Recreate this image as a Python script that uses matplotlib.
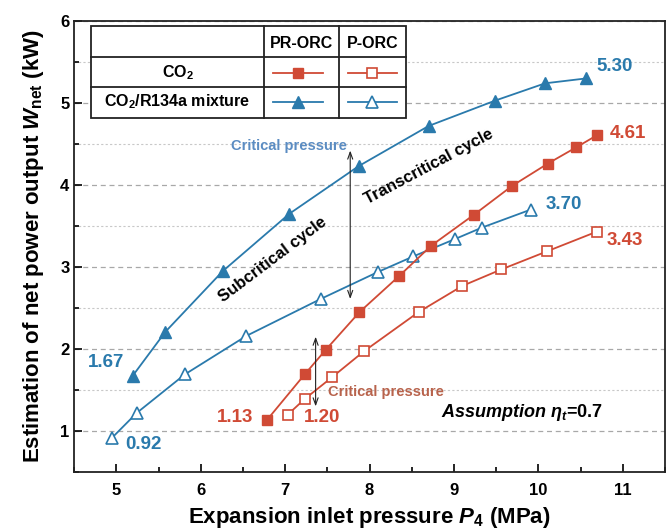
import matplotlib
matplotlib.use("Agg")
import matplotlib.pyplot as plt
from matplotlib.patches import Rectangle
from matplotlib.ticker import MultipleLocator

plt.rcParams['font.family'] = ['Liberation Sans', 'DejaVu Sans']
plt.rcParams['font.weight'] = 'bold'
plt.rcParams['axes.labelweight'] = 'bold'
plt.rcParams['mathtext.fontset'] = 'custom'
plt.rcParams['mathtext.rm'] = 'Liberation Sans:bold'
plt.rcParams['mathtext.bf'] = 'Liberation Sans:bold'
plt.rcParams['mathtext.it'] = 'Liberation Sans:bold:italic'

red = '#d04a35'
blue = '#2a7aac'

# CO2/R134a mixture, PR-ORC (filled triangles)
mix_pr_p = [5.19, 5.58, 6.26, 7.05, 7.87, 8.70, 9.49, 10.08, 10.57]
mix_pr_w = [1.67, 2.21, 2.95, 3.65, 4.23, 4.72, 5.03, 5.24, 5.30]
# CO2/R134a mixture, P-ORC (open triangles)
mix_p_p = [4.95, 5.24, 5.81, 6.54, 7.42, 8.10, 8.52, 9.01, 9.33, 9.91]
mix_p_w = [0.92, 1.22, 1.69, 2.16, 2.61, 2.94, 3.13, 3.34, 3.48, 3.70]
# CO2, PR-ORC (filled squares)
co2_pr_p = [6.78, 7.23, 7.48, 7.88, 8.35, 8.73, 9.24, 9.69, 10.11, 10.45, 10.70]
co2_pr_w = [1.13, 1.69, 1.99, 2.45, 2.89, 3.26, 3.64, 3.99, 4.26, 4.46, 4.61]
# CO2, P-ORC (open squares)
co2_p_p = [7.03, 7.23, 7.56, 7.93, 8.58, 9.10, 9.56, 10.10, 10.69]
co2_p_w = [1.20, 1.39, 1.66, 1.97, 2.45, 2.77, 2.97, 3.19, 3.43]

fig = plt.figure(figsize=(6.71, 5.31), dpi=100)
ax = fig.add_axes([0.1107, 0.1111, 0.991 - 0.1107, 0.9605 - 0.1111])

ms_sq = 7
ms_tri = 8.5
ax.plot(mix_pr_p, mix_pr_w, color=blue, lw=1.3, marker='^', ms=ms_tri, zorder=3)
ax.plot(mix_p_p, mix_p_w, color=blue, lw=1.3, marker='^', ms=ms_tri,
        mfc='white', mew=1.2, zorder=3)
ax.plot(co2_pr_p, co2_pr_w, color=red, lw=1.3, marker='s', ms=ms_sq, zorder=3)
ax.plot(co2_p_p, co2_p_w, color=red, lw=1.3, marker='s', ms=ms_sq,
        mfc='white', mew=1.2, zorder=3)

ax.set_xlim(4.5, 11.5)
ax.set_ylim(0.5, 6)
ax.xaxis.set_major_locator(MultipleLocator(1))
ax.xaxis.set_minor_locator(MultipleLocator(0.5))
ax.yaxis.set_major_locator(MultipleLocator(1))
ax.yaxis.set_minor_locator(MultipleLocator(0.5))
ax.tick_params(which='both', direction='in', width=1.2, labelsize=12)
ax.tick_params(which='major', length=6)
ax.tick_params(which='minor', length=3.5)
ax.tick_params(axis='x', pad=8)
ax.set_yticks([1, 2, 3, 4, 5, 6])
for s in ax.spines.values():
    s.set_linewidth(1.3)
    s.set_color('#222222')

ax.set_axisbelow(True)
ax.yaxis.grid(True, which='major', linestyle=(0, (4, 3)), color='#a8a8a8', lw=0.9)
ax.yaxis.grid(True, which='minor', linestyle=(0, (2, 2)), color='#c8c8c8', lw=0.8)

ax.set_xlabel(r'Expansion inlet pressure $P_4$ (MPa)', fontsize=16, labelpad=5)
ax.set_ylabel(r'Estimation of net power output $W_{\mathrm{net}}$ (kW)', fontsize=16, labelpad=10)

# critical pressure arrows
arrow = dict(arrowstyle='<->,head_length=0.5,head_width=0.18', color='#222222', lw=0.8,
             shrinkA=0, shrinkB=0)
ax.annotate('', xy=(7.77, 4.42), xytext=(7.77, 2.61), arrowprops=arrow)
ax.annotate('', xy=(7.36, 2.15), xytext=(7.36, 1.30), arrowprops=arrow)
ax.text(7.04, 4.47, 'Critical pressure', color='#5b8cc2', fontsize=10.5,
        ha='center', va='center')
ax.text(8.19, 1.48, 'Critical pressure', color='#b8634c', fontsize=10.5,
        ha='center', va='center')

ax.text(6.85, 3.09, 'Subcritical cycle', fontsize=12, rotation=37,
        ha='center', va='center', rotation_mode='anchor')
ax.text(8.70, 4.22, 'Transcritical cycle', fontsize=12, rotation=28,
        ha='center', va='center', rotation_mode='anchor')
ax.text(8.84, 1.22, r'$\mathit{Assumption}\ \eta_t$=0.7', fontsize=13,
        ha='left', va='center')

# end-point value labels
ax.text(4.88, 1.84, '1.67', color=blue, fontsize=13.5, ha='center', va='center')
ax.text(5.32, 0.83, '0.92', color=blue, fontsize=13.5, ha='center', va='center')
ax.text(6.41, 1.16, '1.13', color=red, fontsize=13.5, ha='center', va='center')
ax.text(7.44, 1.16, '1.20', color=red, fontsize=13.5, ha='center', va='center')
ax.text(10.90, 5.44, '5.30', color=blue, fontsize=13.5, ha='center', va='center')
ax.text(11.06, 4.63, '4.61', color=red, fontsize=13.5, ha='center', va='center')
ax.text(10.30, 3.76, '3.70', color=blue, fontsize=13.5, ha='center', va='center')
ax.text(11.03, 3.32, '3.43', color=red, fontsize=13.5, ha='center', va='center')

# table-style legend
T = ax.transAxes
xs = [0.0283, 0.3211, 0.4481, 0.5615]
ys = [0.9889, 0.9195, 0.8543, 0.7856]
ax.add_patch(Rectangle((xs[0], ys[3]), xs[3] - xs[0], ys[0] - ys[3], transform=T,
                       facecolor='white', edgecolor='#222222', lw=1.3, zorder=4))
for y in ys[1:3]:
    ax.plot([xs[0], xs[3]], [y, y], transform=T, color='#222222', lw=1.3, zorder=5)
for x in xs[1:3]:
    ax.plot([x, x], [ys[0], ys[3]], transform=T, color='#222222', lw=1.3, zorder=5)

ax.text(0.3846, 0.9506, 'PR-ORC', transform=T, fontsize=11.5, ha='center', va='center', zorder=6)
ax.text(0.5048, 0.9506, 'P-ORC', transform=T, fontsize=11.5, ha='center', va='center', zorder=6)
ax.text(0.1747, 0.8854, r'CO$_2$', transform=T, fontsize=11.5, ha='center', va='center', zorder=6)
ax.text(0.1747, 0.8211, r'CO$_2$/R134a mixture', transform=T, fontsize=11.5,
        ha='center', va='center', zorder=6)

rows = [(0.8854, red, 's', ms_sq), (0.8211, blue, '^', ms_tri)]
for yc, c, m, ms in rows:
    ax.plot([0.3359, 0.4205], [yc, yc], transform=T, color=c, lw=1.3, zorder=6)
    ax.plot([0.3782], [yc], transform=T, color=c, marker=m, ms=ms, zorder=7)
    ax.plot([0.4634, 0.5458], [yc, yc], transform=T, color=c, lw=1.3, zorder=6)
    ax.plot([0.5046], [yc], transform=T, color=c, marker=m, ms=ms,
            mfc='white', mew=1.2, zorder=7)

fig.savefig('out.png', dpi=100)
